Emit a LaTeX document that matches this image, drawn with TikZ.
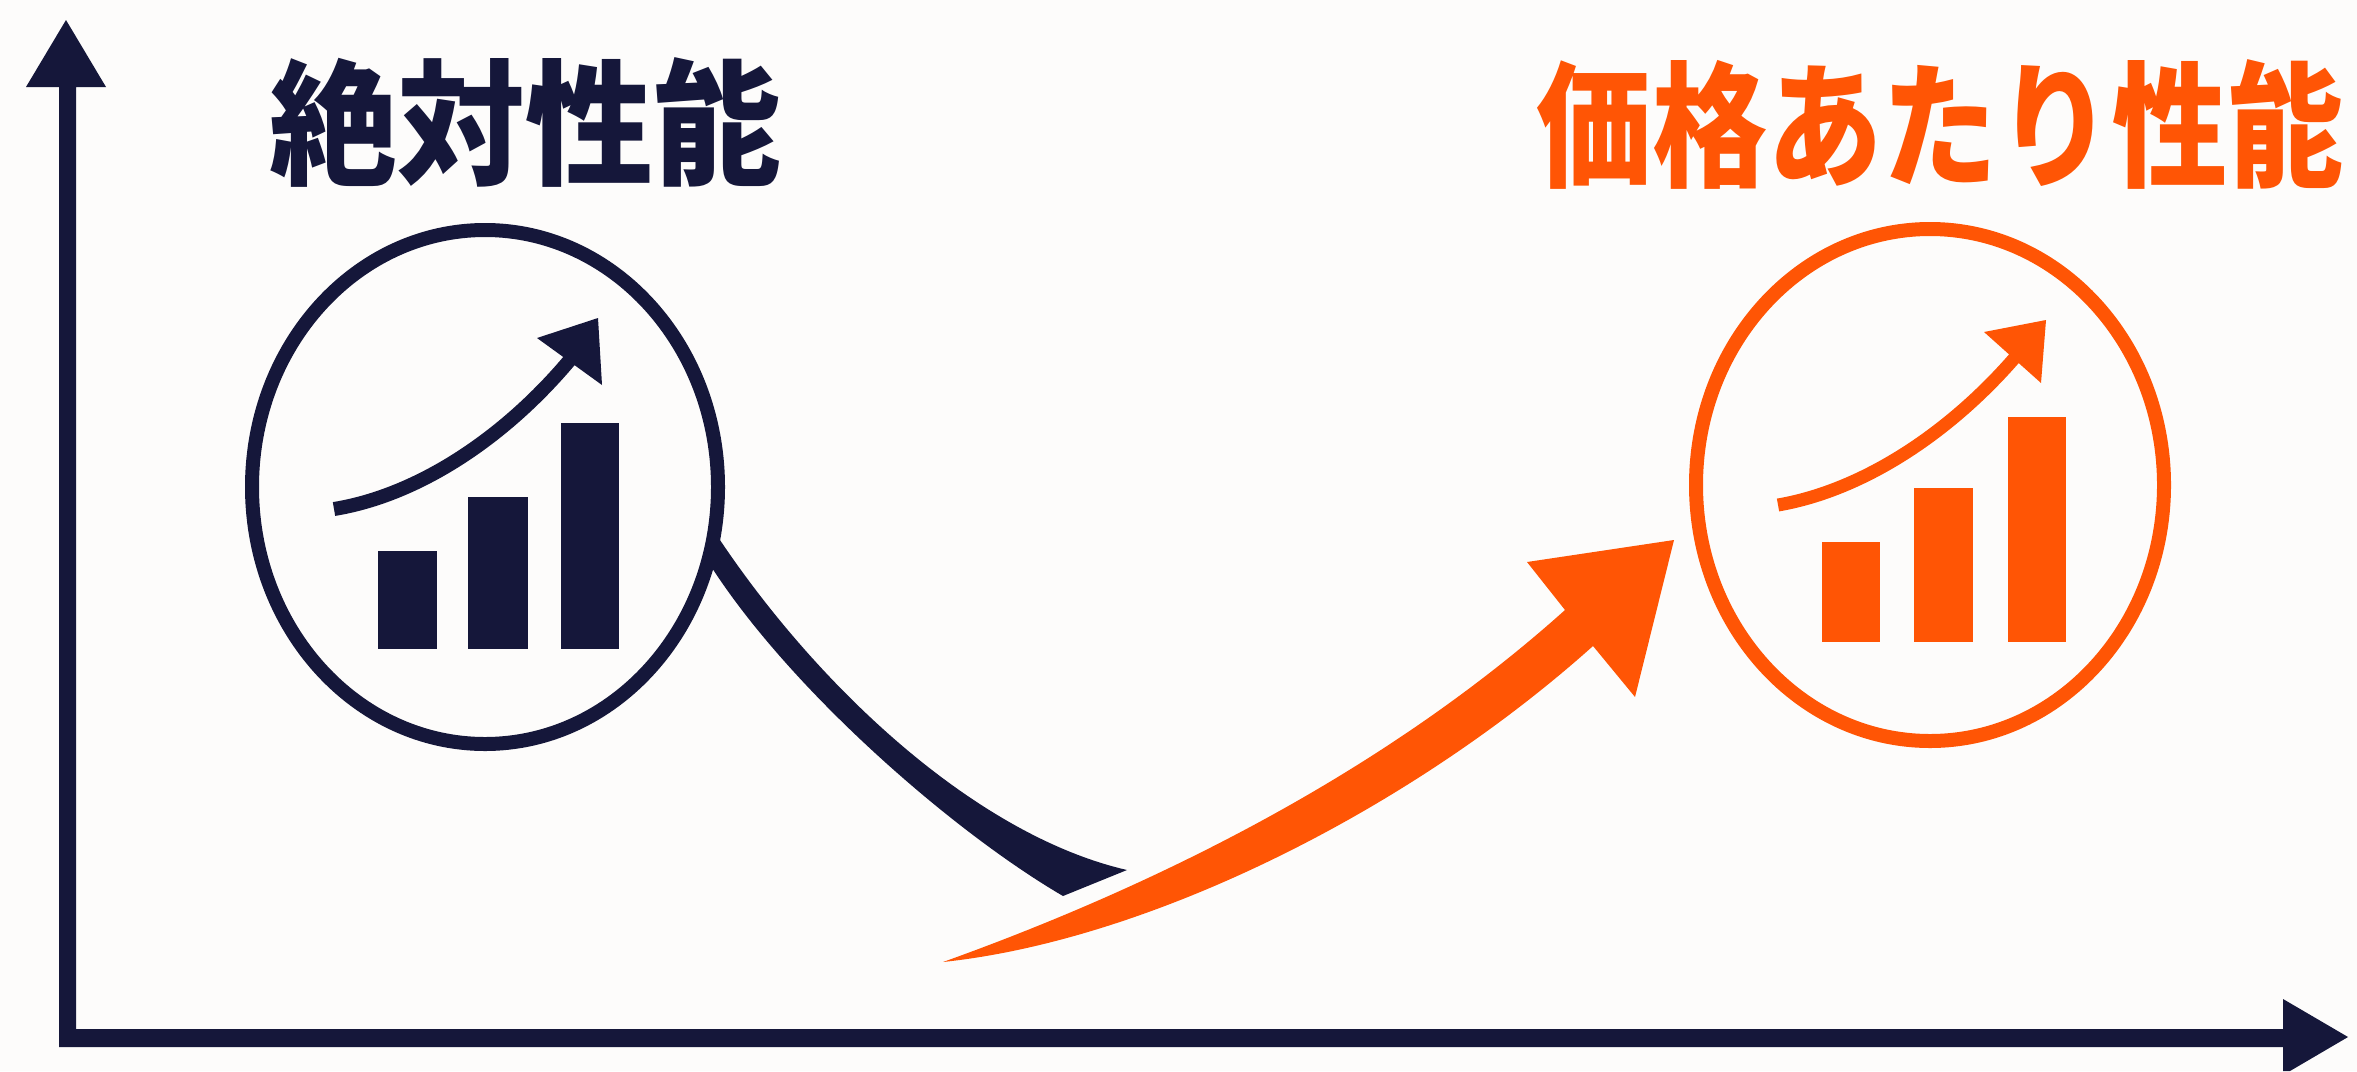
\documentclass[tikz,border=0pt]{standalone}
\usepackage{fontspec}
\newfontfamily\jpfont{Noto Sans CJK JP Black}
\definecolor{navy}{HTML}{15173A}
\definecolor{brandorange}{HTML}{FF5505}
\definecolor{paper}{HTML}{FDFCFB}
\tikzset{
  ring/.style={draw=#1,line width=14pt,fill=none},
  bar/.style={fill=#1,draw=none},
  trend/.style={draw=#1},
  headline/.style={inner sep=0pt,outer sep=0pt,yscale=1.06,font=\jpfont\fontsize{128}{128}\selectfont}
}
\begin{document}
\begin{tikzpicture}[x=1pt,y=-1pt]
\useasboundingbox (0,0) rectangle (2357,1071);
\fill[paper] (0,0) rectangle (2357,1071);
% axes
\fill[navy] (59,87) -- (26,87) -- (66,20) -- (106,87) -- (76,87) -- (76,1029) -- (2283,1029) -- (2283,999) -- (2348,1037) -- (2290,1071) -- (2283,1071) -- (2283,1047) -- (59,1047) -- cycle;
% titles
\node[headline,text=navy,anchor=center] (absolute) at (525,122) {絶対性能};
\node[headline,text=brandorange,anchor=center,xscale=0.9] (perprice) at (1940,124) {価格あたり性能};
% navy curve
\fill[navy] (714,531) .. controls (815,685) and (975,835) .. (1127,870) -- (1063,896) .. controls (950,830) and (785,685) .. (707,560) -- cycle;
% orange big arrow
\fill[brandorange] (943,962) .. controls (1130,895) and (1370,785) .. (1565,610) -- (1527,562) -- (1674,540) -- (1635,697) -- (1593,646) .. controls (1410,810) and (1150,940) .. (943,962) -- cycle;
% left icon
\draw[ring=navy] (485,487) ellipse [x radius=233,y radius=257];
\fill[bar=navy] (378,551) rectangle (437,649);
\fill[bar=navy] (468,497) rectangle (528,649);
\fill[bar=navy] (561,423) rectangle (619,649);
\draw[trend=navy,line width=14pt] (334,509) .. controls (420,495) and (510,435) .. (578,350);
\fill[navy] (598,318) -- (537,338) -- (602,385) -- cycle;
% right icon
\draw[ring=brandorange] (1930,485) ellipse [x radius=234,y radius=256];
\fill[bar=brandorange] (1822,542) rectangle (1880,642);
\fill[bar=brandorange] (1914,488) rectangle (1973,642);
\fill[bar=brandorange] (2008,417) rectangle (2066,642);
\draw[trend=brandorange,line width=13pt] (1778,505) .. controls (1865,490) and (1955,430) .. (2023,348);
\fill[brandorange] (2046,320) -- (1984,332) -- (2041,383) -- cycle;
\end{tikzpicture}
\end{document}
